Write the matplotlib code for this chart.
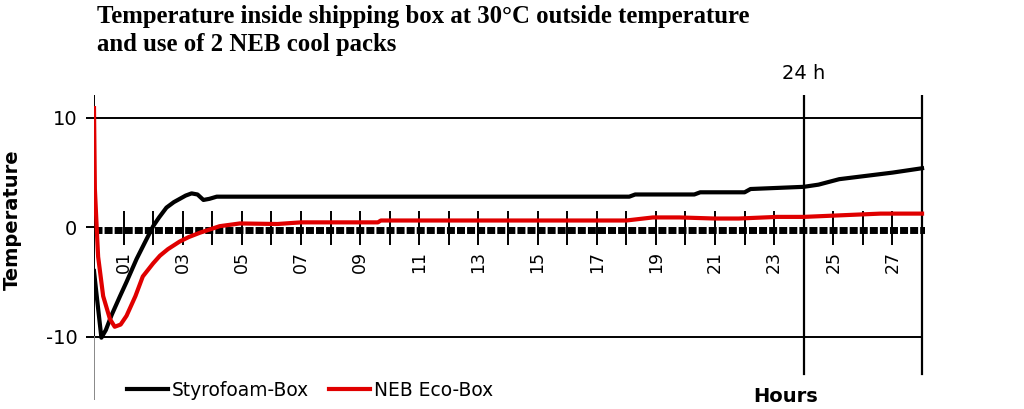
import matplotlib
matplotlib.use("Agg")
import matplotlib.pyplot as plt

# Styrofoam-Box temperature curve (hours, degrees C)
styro_hours = [0, 0.08, 0.25, 0.4, 0.6, 0.88, 1.1, 1.44, 1.7, 2.0, 2.2, 2.45, 2.7, 2.9,
               3.1, 3.3, 3.5, 3.7, 3.9, 4.15, 5, 10, 15, 18.1, 18.3, 20.3, 20.5, 22, 22.2,
               24, 24.5, 25.2, 26.1, 27, 28]
styro_temp = [-4, -6, -10.1, -9.4, -8, -6.3, -5, -2.9, -1.5, 0.1, 0.9, 1.8, 2.3, 2.6,
              2.9, 3.1, 3.0, 2.5, 2.6, 2.8, 2.8, 2.8, 2.8, 2.8, 3.0, 3.0, 3.2, 3.2, 3.5,
              3.7, 3.9, 4.4, 4.7, 5.0, 5.4]

# NEB Eco-Box temperature curve
eco_hours = [0, 0.03, 0.11, 0.14, 0.31, 0.54, 0.7, 0.9, 1.1, 1.4, 1.65, 2.0, 2.23, 2.5,
             2.9, 3.2, 3.58, 4.25, 4.93, 6.2, 7.0, 9.6, 9.7, 18, 18.9, 19.8, 21, 21.8,
             23.1, 24, 26.6, 28]
eco_temp = [10.9, 3.5, -1.1, -2.7, -6.3, -8.4, -9.1, -8.9, -8.1, -6.3, -4.5, -3.3, -2.6,
            -2.0, -1.3, -0.9, -0.5, 0.1, 0.35, 0.3, 0.45, 0.45, 0.62, 0.62, 0.9, 0.9, 0.8,
            0.8, 0.95, 0.95, 1.25, 1.25]

hour_ticks = list(range(1, 29))
hour_labels = ["%02d" % h for h in range(1, 28, 2)]
y_ticks = [-10, 0, 10]

fig = plt.figure(figsize=(10.24, 4.09), dpi=100)
ax = fig.add_axes([94 / 1024, 1 - 400 / 409, 831 / 1024, 305 / 409])
ax.set_xlim(0, 28.1)
ax.set_ylim(-15.8, 12.1)
for s in ax.spines.values():
    s.set_visible(False)

# grid lines
for y in (10, -10):
    ax.plot([0, 28], [y, y], color="black", lw=1.4, zorder=1)
ax.plot([0, 0], [12.1, -10], color="black", lw=1.4, zorder=1)
ax.plot([0, 0], [-10, -15.8], color="#888888", lw=1.4, zorder=1)
for x in (24, 28):
    ax.plot([x, x], [12.1, -13.4], color="black", lw=1.6, zorder=1)

# hour tick marks crossing the zero line
ax.vlines(hour_ticks, -1.6, 1.5, color="black", lw=1.4, zorder=2)
for h, lab in zip(range(1, 28, 2), hour_labels):
    ax.text(h, -2.2, lab, rotation=90, ha="center", va="top", fontsize=12.5)

# dashed zero line
ax.plot([0, 28.1], [-0.25, -0.25], color="black", lw=5, ls=(0, (1.15, 0.3)), zorder=3)

ax.plot(styro_hours, styro_temp, color="black", lw=3, label="Styrofoam-Box", zorder=4)
ax.plot(eco_hours, eco_temp, color="#e00000", lw=3, label="NEB Eco-Box", zorder=5)

ax.set_xticks([])
ax.set_yticks(y_ticks)
ax.set_yticklabels(["-10", "0", "10"], fontsize=14)
ax.tick_params(axis="y", length=6, width=1.4, pad=6)

ax.text(24, 13.2, "24 h", ha="center", va="bottom", fontsize=14, clip_on=False)
fig.text(786 / 1024, 1 - 396 / 409, "Hours", ha="center", va="center",
         fontsize=14, fontweight="bold")
fig.text(12 / 1024, 1 - 220 / 409, "Temperature", rotation=90, ha="center", va="center",
         fontsize=14, fontweight="bold")

fig.text(97 / 1024, 1 - 5 / 409,
         "Temperature inside shipping box at 30\u00b0C outside temperature\nand use of 2 NEB cool packs",
         ha="left", va="top", fontsize=17.8, fontweight="bold", family="Liberation Serif",
         linespacing=1.3)

ax.legend(loc="center left", bbox_to_anchor=(127 / 1024, 1 - 390 / 409),
          bbox_transform=fig.transFigure, ncol=2, frameon=False, fontsize=13.4,
          handlelength=2.2, handletextpad=0.2, columnspacing=1.1,
          borderpad=0, borderaxespad=0)

fig.savefig("out.png", dpi=100)
